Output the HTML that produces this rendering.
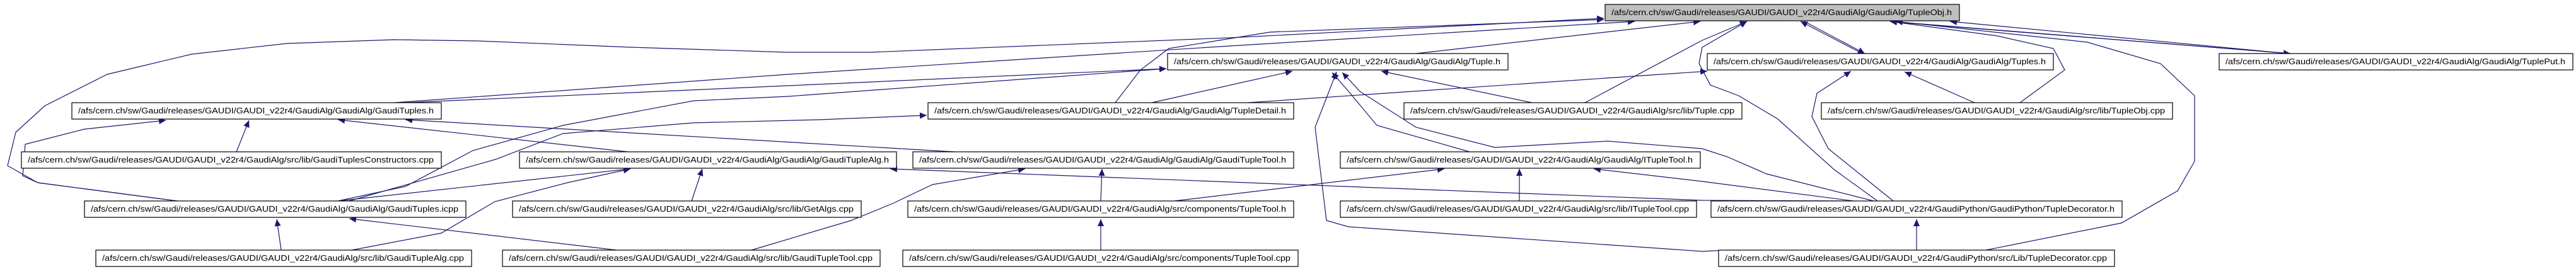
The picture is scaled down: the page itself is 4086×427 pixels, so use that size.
<!DOCTYPE html>
<html><head><meta charset="utf-8"><style>
html,body{margin:0;padding:0;background:#fff;}
svg{display:block;}
text{font-family:"Liberation Sans",sans-serif;font-size:13px;fill:#000;}
.e{fill:none;stroke:#191970;stroke-width:1.2;}
</style></head><body>
<svg width="4086" height="427" viewBox="0 0 4086 427" xmlns="http://www.w3.org/2000/svg">
<defs>
<marker id="a" markerUnits="userSpaceOnUse" markerWidth="12" markerHeight="10" refX="11" refY="5" orient="auto"><path d="M0,0 L11,5 L0,10 z" fill="#191970"/></marker>
<marker id="s" markerUnits="userSpaceOnUse" markerWidth="12" markerHeight="10" refX="0" refY="5" orient="auto"><path d="M11,0 L0,5 L11,10 z" fill="#191970"/></marker>
</defs>
<g class="e" marker-end="url(#a)">
<path d="M281,319 L60,290 L12,263 L25,210 L71,168 L170,118 L304,86 L455,69 L625,63 L759,65 L1000,75 L1250,83 L1380,83 L1950,60 L2544,29"/>
<path d="M281,319 L60,290 L36,279 L40,229 L134,205 L263,191"/>
<path d="M375,241 L395,191"/>
<path d="M996,241 L536,190"/>
<path d="M1514,241 L643,190"/>
<path d="M536,319 L1000,268"/>
<path d="M536,319 L643,296 L750,239 L893,199 L1100,160 L1250,153 L1850,109"/>
<path d="M554,319 L786,253 L893,212 L1100,195 L1300,190 L1470,183"/>
<path d="M978,397 L554,347"/>
<path d="M446,397 L439,348"/>
<path d="M558,397 L700,370 L785,320 L900,290 L1000,268"/>
<path d="M1097,319 L1114,268"/>
<path d="M1192,397 L1350,350 L1416,323 L1479,293 L1626,268"/>
<path d="M625,163 L1250,118 L1950,73 L2593,34"/>
<path d="M643,163 L1250,136 L1850,109"/>
<path d="M2246,85 L2697,34"/>
<path d="M1769,163 L1809,111 L1854,77 L2014,51 L2544,31"/>
<path d="M1827,163 L2050,113"/>
<path d="M1979,163 L2708,113"/>
<path d="M2430,163 L2191,113"/>
<path d="M2514,163 L2700,64 L2771,34"/>
<path d="M2331,241 L2184,199 L2139,145 L2113,115"/>
<path d="M2972,319 L2802,276 L2740,249 L2700,236 L2550,224 L2371,234 L2246,202 L2157,145 L2129,115"/>
<path d="M2740,397 L2700,399 L2139,360 L2104,350 L2086,202 L2120,114"/>
<path d="M2927,319 L2700,318 L1412,268"/>
<path d="M1746,319 L1748,268"/>
<path d="M1863,319 L2291,268"/>
<path d="M2410,319 L2410,268"/>
<path d="M2940,319 L2700,288 L2528,268"/>
<path d="M1746,397 L1746,348"/>
<path d="M2978,319 L2909,269 L2820,189 L2758,152 L2713,135 L2695,101 L2700,75 L2771,34"/>
<path d="M3003,319 L2900,236 L2874,185 L2882,148 L2936,113"/>
<path d="M3132,163 L3021,114"/>
<path d="M3204,163 L3275,111 L3257,77 L3168,57 L2998,34"/>
<path d="M3150,397 L3365,354 L3454,303 L3481,256 L3481,152 L3427,101 L3311,67 L3007,34"/>
<path d="M3040,397 L3040,348"/>
<path d="M2954,85 L2856,34"/>
<path d="M2862,34 L2958,85"/>
<path d="M3633,85 L2998,34"/>
<path d="M3630,85 L3093,34"/>
<path d="M3004,35 L3633,85"/>
</g>
<g stroke="#000" stroke-width="1.2" fill="#fff">
<rect x="2546" y="7" width="562" height="26" fill="#bfbfbf"/>
<rect x="1852" y="85" width="540" height="26"/>
<rect x="2708" y="85" width="549" height="26"/>
<rect x="3520" y="85" width="561" height="26"/>
<rect x="114" y="163" width="586" height="26"/>
<rect x="1472" y="163" width="580" height="26"/>
<rect x="2227" y="163" width="536" height="26"/>
<rect x="2889" y="163" width="557" height="26"/>
<rect x="34" y="241" width="666" height="26"/>
<rect x="824" y="241" width="598" height="26"/>
<rect x="1448" y="241" width="604" height="26"/>
<rect x="2126" y="241" width="571" height="26"/>
<rect x="134" y="319" width="605" height="26"/>
<rect x="813" y="319" width="553" height="26"/>
<rect x="1440" y="319" width="612" height="26"/>
<rect x="2126" y="319" width="565" height="26"/>
<rect x="2714" y="319" width="652" height="26"/>
<rect x="152" y="397" width="596" height="26"/>
<rect x="797" y="397" width="599" height="26"/>
<rect x="1432" y="397" width="627" height="26"/>
<rect x="2726" y="397" width="628" height="26"/>
</g>
<g>
<text x="2556" y="24" textLength="540" lengthAdjust="spacingAndGlyphs">/afs/cern.ch/sw/Gaudi/releases/GAUDI/GAUDI_v22r4/GaudiAlg/GaudiAlg/TupleObj.h</text>
<text x="1862" y="102" textLength="518" lengthAdjust="spacingAndGlyphs">/afs/cern.ch/sw/Gaudi/releases/GAUDI/GAUDI_v22r4/GaudiAlg/GaudiAlg/Tuple.h</text>
<text x="2718" y="102" textLength="527" lengthAdjust="spacingAndGlyphs">/afs/cern.ch/sw/Gaudi/releases/GAUDI/GAUDI_v22r4/GaudiAlg/GaudiAlg/Tuples.h</text>
<text x="3530" y="102" textLength="539" lengthAdjust="spacingAndGlyphs">/afs/cern.ch/sw/Gaudi/releases/GAUDI/GAUDI_v22r4/GaudiAlg/GaudiAlg/TuplePut.h</text>
<text x="124" y="180" textLength="564" lengthAdjust="spacingAndGlyphs">/afs/cern.ch/sw/Gaudi/releases/GAUDI/GAUDI_v22r4/GaudiAlg/GaudiAlg/GaudiTuples.h</text>
<text x="1482" y="180" textLength="558" lengthAdjust="spacingAndGlyphs">/afs/cern.ch/sw/Gaudi/releases/GAUDI/GAUDI_v22r4/GaudiAlg/GaudiAlg/TupleDetail.h</text>
<text x="2237" y="180" textLength="514" lengthAdjust="spacingAndGlyphs">/afs/cern.ch/sw/Gaudi/releases/GAUDI/GAUDI_v22r4/GaudiAlg/src/lib/Tuple.cpp</text>
<text x="2899" y="180" textLength="535" lengthAdjust="spacingAndGlyphs">/afs/cern.ch/sw/Gaudi/releases/GAUDI/GAUDI_v22r4/GaudiAlg/src/lib/TupleObj.cpp</text>
<text x="44" y="258" textLength="644" lengthAdjust="spacingAndGlyphs">/afs/cern.ch/sw/Gaudi/releases/GAUDI/GAUDI_v22r4/GaudiAlg/src/lib/GaudiTuplesConstructors.cpp</text>
<text x="834" y="258" textLength="576" lengthAdjust="spacingAndGlyphs">/afs/cern.ch/sw/Gaudi/releases/GAUDI/GAUDI_v22r4/GaudiAlg/GaudiAlg/GaudiTupleAlg.h</text>
<text x="1458" y="258" textLength="582" lengthAdjust="spacingAndGlyphs">/afs/cern.ch/sw/Gaudi/releases/GAUDI/GAUDI_v22r4/GaudiAlg/GaudiAlg/GaudiTupleTool.h</text>
<text x="2136" y="258" textLength="549" lengthAdjust="spacingAndGlyphs">/afs/cern.ch/sw/Gaudi/releases/GAUDI/GAUDI_v22r4/GaudiAlg/GaudiAlg/ITupleTool.h</text>
<text x="144" y="336" textLength="583" lengthAdjust="spacingAndGlyphs">/afs/cern.ch/sw/Gaudi/releases/GAUDI/GAUDI_v22r4/GaudiAlg/GaudiAlg/GaudiTuples.icpp</text>
<text x="823" y="336" textLength="531" lengthAdjust="spacingAndGlyphs">/afs/cern.ch/sw/Gaudi/releases/GAUDI/GAUDI_v22r4/GaudiAlg/src/lib/GetAlgs.cpp</text>
<text x="1450" y="336" textLength="590" lengthAdjust="spacingAndGlyphs">/afs/cern.ch/sw/Gaudi/releases/GAUDI/GAUDI_v22r4/GaudiAlg/src/components/TupleTool.h</text>
<text x="2136" y="336" textLength="543" lengthAdjust="spacingAndGlyphs">/afs/cern.ch/sw/Gaudi/releases/GAUDI/GAUDI_v22r4/GaudiAlg/src/lib/ITupleTool.cpp</text>
<text x="2724" y="336" textLength="630" lengthAdjust="spacingAndGlyphs">/afs/cern.ch/sw/Gaudi/releases/GAUDI/GAUDI_v22r4/GaudiPython/GaudiPython/TupleDecorator.h</text>
<text x="162" y="414" textLength="574" lengthAdjust="spacingAndGlyphs">/afs/cern.ch/sw/Gaudi/releases/GAUDI/GAUDI_v22r4/GaudiAlg/src/lib/GaudiTupleAlg.cpp</text>
<text x="807" y="414" textLength="577" lengthAdjust="spacingAndGlyphs">/afs/cern.ch/sw/Gaudi/releases/GAUDI/GAUDI_v22r4/GaudiAlg/src/lib/GaudiTupleTool.cpp</text>
<text x="1442" y="414" textLength="605" lengthAdjust="spacingAndGlyphs">/afs/cern.ch/sw/Gaudi/releases/GAUDI/GAUDI_v22r4/GaudiAlg/src/components/TupleTool.cpp</text>
<text x="2736" y="414" textLength="606" lengthAdjust="spacingAndGlyphs">/afs/cern.ch/sw/Gaudi/releases/GAUDI/GAUDI_v22r4/GaudiPython/src/Lib/TupleDecorator.cpp</text>
</g>
</svg>
</body></html>
